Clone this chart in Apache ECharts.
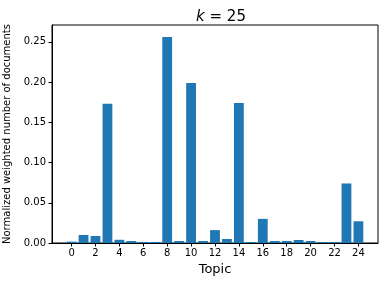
<!DOCTYPE html>
<html>
<head>
<meta charset="utf-8">
<script src="https://cdn.jsdelivr.net/npm/echarts@6/dist/echarts.min.js"></script>
<style>
  html, body { margin: 0; padding: 0; background: #fff; }
  #chart { width: 392px; height: 284px; }
</style>
</head>
<body>
<div id="chart"></div>
<script>
// topic ids and their normalized weighted document counts
const topics = [0, 1, 2, 3, 4, 5, 6, 7, 8, 9, 10, 11, 12, 13, 14, 15, 16, 17, 18, 19, 20, 21, 22, 23, 24];
const weights = [0.0017, 0.010, 0.0087, 0.173, 0.004, 0.0025, 0.0013, 0.0013, 0.256, 0.0025,
  0.199, 0.0025, 0.016, 0.005, 0.174, 0.0012, 0.030, 0.0025, 0.0025, 0.0037,
  0.0025, 0.0012, 0.0012, 0.074, 0.027];
const xTicks = [0, 2, 4, 6, 8, 10, 12, 14, 16, 18, 20, 22, 24];
const yTicks = [0, 0.05, 0.1, 0.15, 0.2, 0.25];

const chart = echarts.init(document.getElementById('chart'), null, { renderer: 'canvas' });
const font = 'DejaVu Sans';

chart.setOption({
  animation: false,
  textStyle: { fontFamily: font },
  title: {
    text: '{i|k} = 25',
    left: 216,
    top: 5,
    textAlign: 'center',
    textStyle: {
      fontFamily: font,
      fontSize: 15,
      fontWeight: 'normal',
      color: '#000',
      rich: { i: { fontStyle: 'italic', fontFamily: font, fontSize: 15, color: '#000' } },
    },
  },
  grid: {
    left: 52, right: 14, top: 25, bottom: 41,
    outerBoundsMode: 'none',
    containLabel: false,
    show: true, borderColor: '#000', borderWidth: 1, backgroundColor: 'transparent',
  },
  xAxis: {
    type: 'value',
    min: -1.64,
    max: 25.64,
    name: 'Topic',
    nameLocation: 'middle',
    nameGap: 20,
    nameTextStyle: { fontFamily: font, fontSize: 13, color: '#000' },
    axisLine: { show: true, onZero: false, lineStyle: { color: '#000', width: 1 } },
    axisTick: { show: true, length: 3.5, lineStyle: { color: '#000' }, customValues: xTicks },
    axisLabel: { color: '#000', fontSize: 10, fontFamily: font, margin: 5, customValues: xTicks },
    splitLine: { show: false },
  },
  yAxis: {
    type: 'value',
    min: 0,
    max: 0.271,
    name: 'Normalized weighted number of documents',
    nameLocation: 'middle',
    nameGap: 33,
    nameTextStyle: { fontFamily: font, fontSize: 10, color: '#000' },
    axisLine: { show: true, onZero: false, lineStyle: { color: '#000', width: 1 } },
    axisTick: { show: true, length: 3.5, lineStyle: { color: '#000' }, customValues: yTicks },
    axisLabel: {
      color: '#000', fontSize: 10, fontFamily: font, margin: 6, customValues: yTicks,
      formatter: (v) => v.toFixed(2),
    },
    splitLine: { show: false },
  },
  series: [{
    type: 'bar',
    data: topics.map((t, i) => [t, weights[i]]),
    barWidth: 9.8,
    itemStyle: { color: '#1f77b4' },
  }],
});
</script>
</body>
</html>
